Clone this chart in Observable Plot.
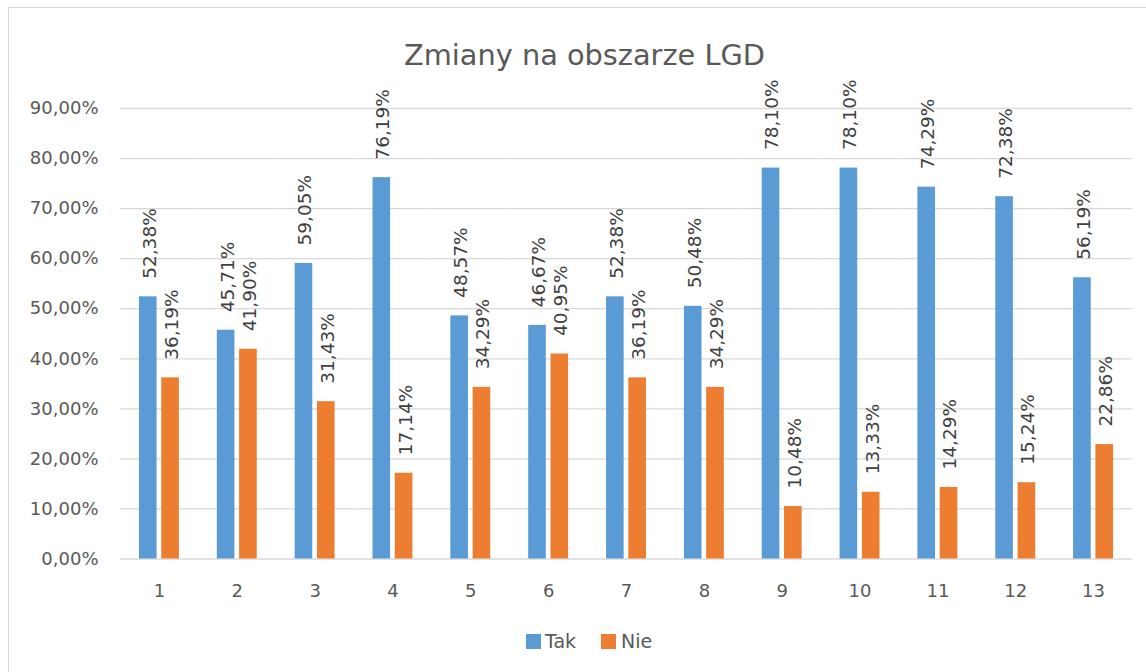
<!DOCTYPE html>
<html>
<head>
<meta charset="utf-8">
<script src="https://cdn.jsdelivr.net/npm/d3@7"></script>
<script src="https://cdn.jsdelivr.net/npm/@observablehq/plot@0.6"></script>
<style>
  html, body { margin: 0; padding: 0; background: #fff; }
  #root { position: relative; width: 1146px; height: 672px; overflow: hidden; font-family: "DejaVu Sans", sans-serif; }
  #frame { position: absolute; left: 8px; top: 7px; width: 1300px; height: 800px; border: 1.5px solid #d9d9d9; box-sizing: border-box; pointer-events: none; }
  #title { height: 72px; box-sizing: border-box; padding-top: 41px; padding-left: 9px; font-size: 28.8px; line-height: 28px; color: #595959; text-align: center; width: 1160px; white-space: nowrap; }
  #legend { position: relative; height: 52px; }
  .sw { position: absolute; top: 14px; width: 15px; height: 15px; }
  .lt { position: absolute; top: 10px; font-size: 19px; line-height: 22px; color: #595959; }
</style>
</head>
<body>
<div id="root">
  <div id="title">Zmiany na obszarze LGD</div>
  <div id="chart"></div>
  <div id="legend"></div>
  <div id="frame"></div>
</div>
<script>
const categories = ["1","2","3","4","5","6","7","8","9","10","11","12","13"];
const seriesNames = ["Tak","Nie"];
const seriesColors = ["#5B9BD5","#ED7D31"];
const takValues = [52.38, 45.71, 59.05, 76.19, 48.57, 46.67, 52.38, 50.48, 78.10, 78.10, 74.29, 72.38, 56.19];
const nieValues = [36.19, 41.90, 31.43, 17.14, 34.29, 40.95, 36.19, 34.29, 10.48, 13.33, 14.29, 15.24, 22.86];
const yTicks = [0, 10, 20, 30, 40, 50, 60, 70, 80, 90];

const rows = [];
categories.forEach((c, i) => {
  rows.push({cat: c, series: "Tak", value: takValues[i]});
  rows.push({cat: c, series: "Nie", value: nieValues[i]});
});
const fmt = v => v.toFixed(2).replace(".", ",") + "%";

const chart = Plot.plot({
  width: 1146,
  height: 548,
  marginTop: 36,
  marginBottom: 61.5,
  marginLeft: 120,
  marginRight: 14,
  style: {fontFamily: "DejaVu Sans, sans-serif", fontSize: "18px", color: "#595959", background: "transparent", overflow: "visible"},
  fx: {domain: categories, padding: 0, round: false, label: null, tickSize: 0, tickPadding: 25, axis: "bottom"},
  x: {domain: seriesNames, paddingInner: 0.21, paddingOuter: 0.85, round: false, axis: null},
  y: {domain: [0, 90], ticks: yTicks, label: null, tickSize: 0, tickPadding: 22, tickFormat: fmt},
  color: {domain: seriesNames, range: seriesColors},
  marks: [
    Plot.ruleY(yTicks, {stroke: "#d9d9d9", strokeWidth: 1.3}),
    Plot.barY(rows, {fx: "cat", x: "series", y: "value", fill: "series"}),
    Plot.text(rows, {fx: "cat", x: "series", y: "value", text: d => fmt(d.value), rotate: -90, textAnchor: "start", lineAnchor: "middle", dy: -18, dx: 1.5, fill: "#404040", fontSize: 18.5})
  ]
});
document.getElementById("chart").appendChild(chart);

const legend = document.getElementById("legend");
const legendPos = [{sw: 526, tx: 545}, {sw: 601, tx: 621}];
seriesNames.forEach((s, i) => {
  const sw = document.createElement("div");
  sw.className = "sw";
  sw.style.left = legendPos[i].sw + "px";
  sw.style.background = seriesColors[i];
  legend.appendChild(sw);
  const t = document.createElement("div");
  t.className = "lt";
  t.style.left = legendPos[i].tx + "px";
  t.textContent = s;
  legend.appendChild(t);
});
</script>
</body>
</html>
